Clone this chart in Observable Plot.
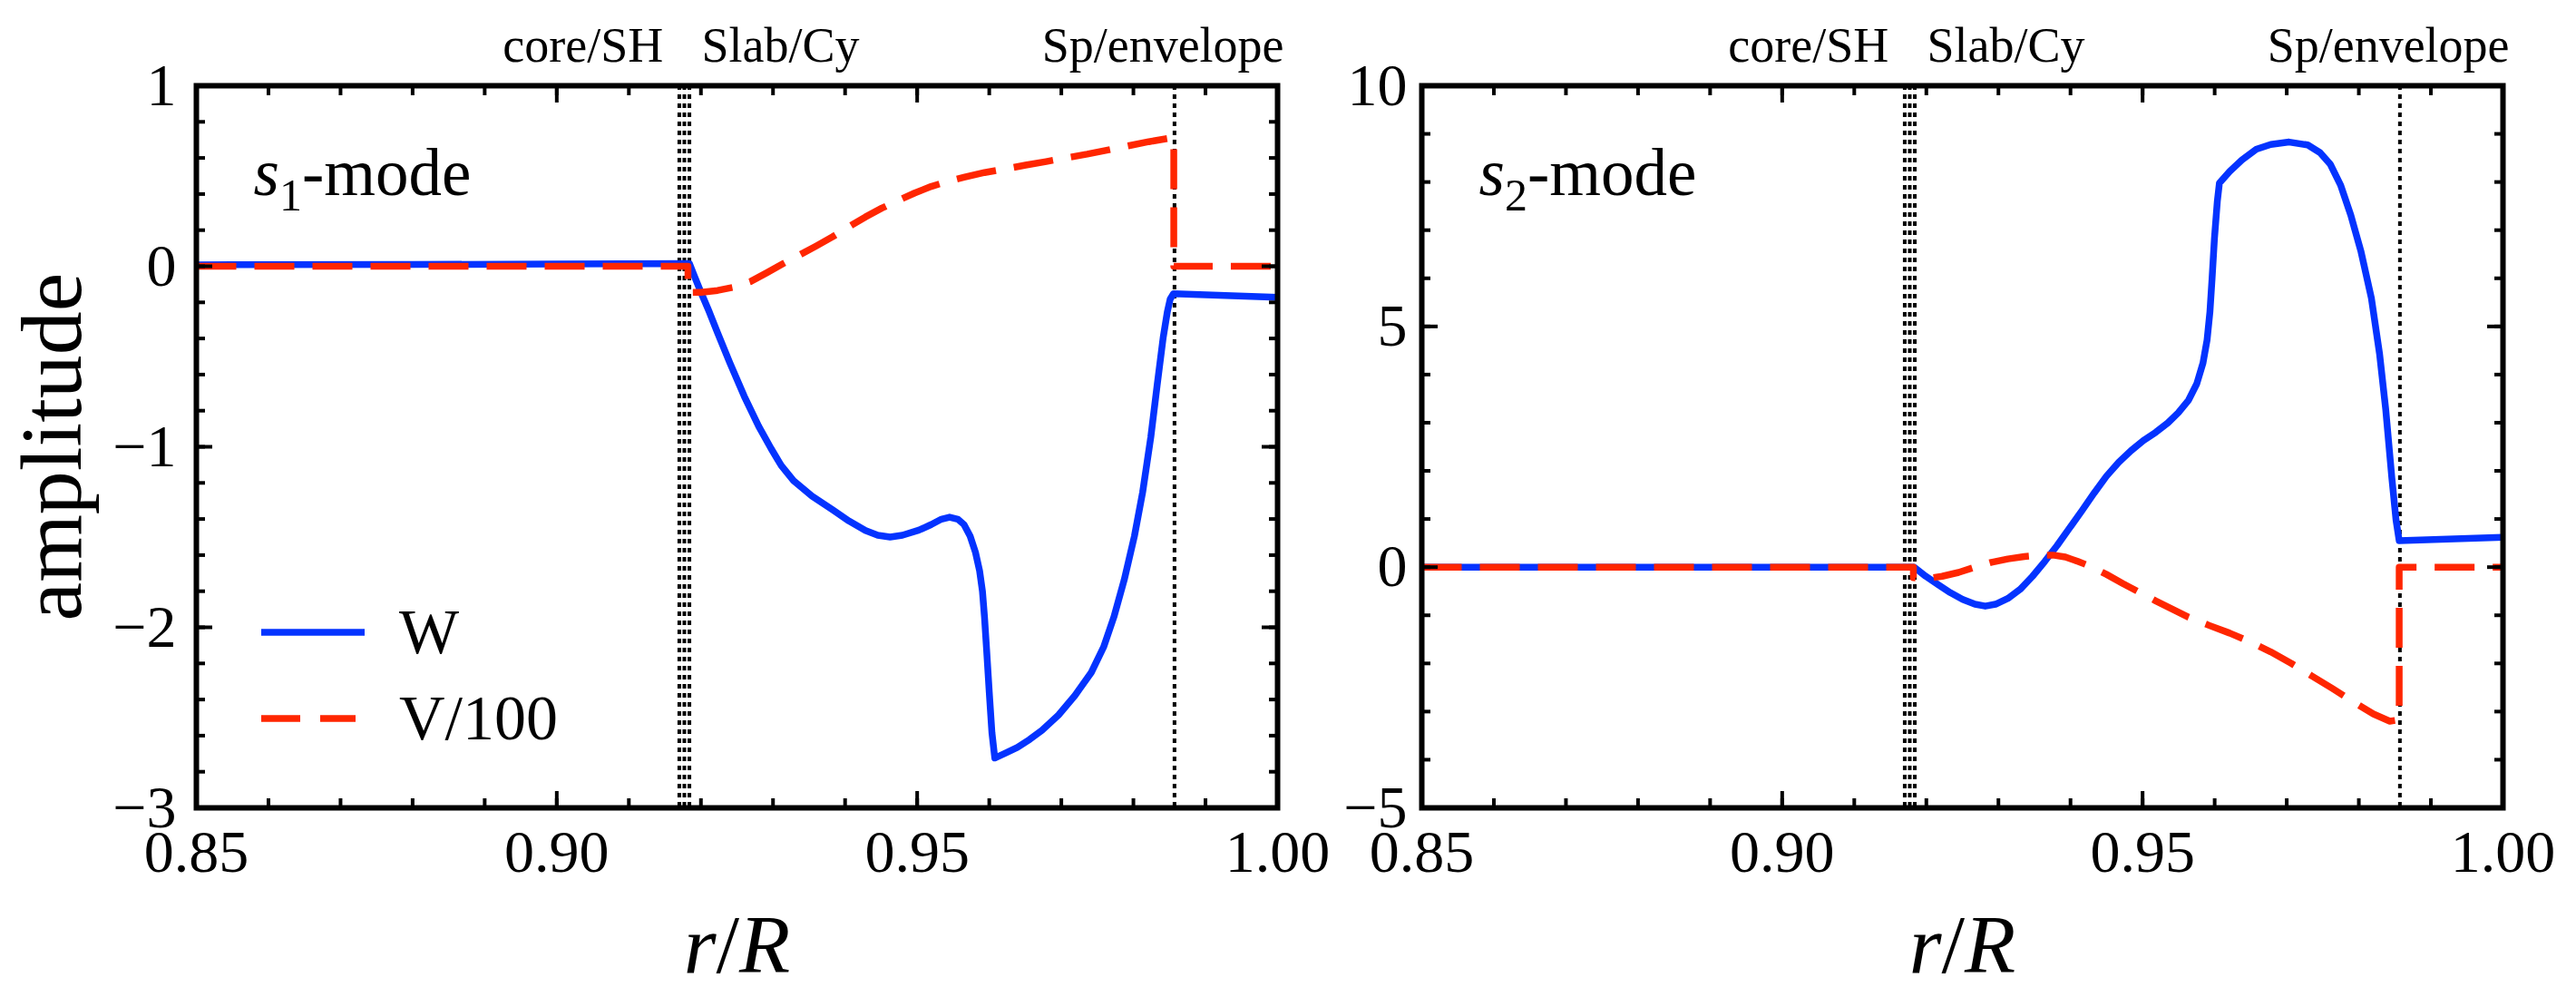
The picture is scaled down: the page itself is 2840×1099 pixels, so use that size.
<!DOCTYPE html>
<html>
<head>
<meta charset="utf-8">
<script src="https://cdn.jsdelivr.net/npm/d3@7"></script>
<script src="https://cdn.jsdelivr.net/npm/@observablehq/plot@0.6"></script>
<style>
  html, body { margin: 0; padding: 0; background: #fff; }
  #chart { display: flex; width: 2840px; height: 1099px; }
  #chart svg { overflow: visible; background: none; }
  #chart svg text { font-family: 'Liberation Serif', 'Times New Roman', Times, serif; }
</style>
</head>
<body>
<div id="chart"></div>
<script>
const serif = "'Liberation Serif', 'Times New Roman', Times, serif";
const blue = "#0433ff", red = "#ff2600";

// dotted boundaries in r/R (inner triple, then the outer one)
const boundaries = [0.9170, 0.9177, 0.9184, 0.9857];
const regionNames = ["core/SH", "Slab/Cy", "Sp/envelope"];
const regionStart = [0.8925, 0.9201, 0.9673];

const xMajor = [0.85, 0.90, 0.95, 1.00];
const y1Major = [-3, -2, -1, 0, 1];
const y2Major = [-5, 0, 5, 10];
const legendNames = ["W", "V/100"];

// s1-mode: [r/R, amplitude]
const s1W = [[0.85,0.008],[0.88,0.010],[0.90,0.012],[0.9184,0.015],[0.91917,-0.062],[0.92003,-0.147],[0.92117,-0.254],[0.92231,-0.369],[0.92402,-0.536],[0.92601,-0.720],[0.92801,-0.886],[0.92972,-1.009],[0.93114,-1.104],[0.93285,-1.188],[0.93541,-1.273],[0.93826,-1.349],[0.94054,-1.411],[0.94282,-1.464],[0.94453,-1.490],[0.94624,-1.500],[0.94795,-1.490],[0.95023,-1.462],[0.95194,-1.431],[0.95336,-1.401],[0.9545,-1.390],[0.95564,-1.401],[0.9565,-1.431],[0.95735,-1.495],[0.95809,-1.585],[0.95866,-1.687],[0.95906,-1.802],[0.95934,-1.943],[0.95963,-2.122],[0.96003,-2.378],[0.96037,-2.583],[0.96077,-2.724],[0.96219,-2.698],[0.9639,-2.665],[0.96561,-2.621],[0.96732,-2.570],[0.9696,-2.486],[0.97188,-2.378],[0.97416,-2.250],[0.97587,-2.109],[0.97729,-1.943],[0.97872,-1.738],[0.98014,-1.495],[0.98128,-1.252],[0.98242,-0.945],[0.98328,-0.663],[0.98413,-0.395],[0.9847,-0.254],[0.9851,-0.182],[0.98556,-0.152],[1.0,-0.172]];
const s1V = [[0.85,0],[0.9182,0],[0.9182,-0.144],[0.92003,-0.144],[0.92231,-0.134],[0.92459,-0.116],[0.92687,-0.085],[0.92915,-0.036],[0.93142,0.015],[0.9337,0.063],[0.93598,0.112],[0.93826,0.163],[0.94054,0.219],[0.94282,0.273],[0.9451,0.322],[0.94738,0.365],[0.94966,0.406],[0.95194,0.442],[0.95422,0.470],[0.9565,0.493],[0.95934,0.519],[0.96219,0.539],[0.96504,0.560],[0.96789,0.580],[0.97074,0.601],[0.97359,0.621],[0.97644,0.644],[0.97929,0.667],[0.98214,0.690],[0.98527,0.711],[0.9856,0.712],[0.9856,0],[1.0,0]];

// s2-mode
const s2W = [[0.85,0],[0.9183,0],[0.91991,-0.19],[0.92162,-0.36],[0.92333,-0.53],[0.92504,-0.67],[0.92675,-0.77],[0.92818,-0.81],[0.9296,-0.77],[0.93131,-0.65],[0.93302,-0.46],[0.93473,-0.19],[0.93644,0.12],[0.93815,0.45],[0.93986,0.81],[0.94157,1.17],[0.94328,1.54],[0.94499,1.89],[0.9467,2.18],[0.9484,2.42],[0.95011,2.63],[0.95182,2.80],[0.95353,3.0],[0.95496,3.21],[0.95638,3.47],[0.95752,3.81],[0.95838,4.24],[0.95895,4.72],[0.95934,5.30],[0.95963,5.97],[0.95997,6.83],[0.96037,7.60],[0.96066,7.98],[0.96208,8.22],[0.96379,8.46],[0.96578,8.68],[0.96778,8.78],[0.97034,8.83],[0.97291,8.77],[0.97462,8.61],[0.97604,8.37],[0.97746,7.94],[0.97889,7.31],[0.98031,6.55],[0.98174,5.59],[0.98288,4.43],[0.98373,3.28],[0.98459,1.84],[0.98516,0.98],[0.9856,0.55],[1.0,0.62]];
const s2V = [[0.85,0],[0.9182,0],[0.9182,-0.22],[0.91991,-0.24],[0.92219,-0.19],[0.92447,-0.11],[0.92675,0.0],[0.92903,0.10],[0.93131,0.17],[0.93359,0.22],[0.93587,0.25],[0.93758,0.25],[0.93929,0.21],[0.941,0.12],[0.94271,0.02],[0.94499,-0.15],[0.94726,-0.34],[0.94954,-0.52],[0.95182,-0.70],[0.9541,-0.87],[0.95638,-1.04],[0.95923,-1.21],[0.96208,-1.37],[0.96493,-1.55],[0.96778,-1.76],[0.97063,-2.00],[0.97348,-2.26],[0.97633,-2.52],[0.97917,-2.79],[0.98202,-3.05],[0.9843,-3.20],[0.9856,-3.17],[0.9856,0],[1.0,0]];

const fmtY = d => d < 0 ? "\u2212" + (-d) : String(d);
const fmtX = d3.format(".2f");

function panel({W, V, yDomain, yMajor, yMinor, yPad, mode, marginLeft, marginRight, yLabel}) {
  const tick = {strokeWidth: 4, fill: "none", label: null};
  const font = {fontFamily: serif};
  const marks = [
    Plot.ruleX(boundaries, {stroke: "black", strokeWidth: 4, strokeDasharray: "5,5"}),
    Plot.line(W, {x: d => d[0], y: d => d[1], stroke: blue, strokeWidth: 7.5, strokeLinecap: "butt"}),
    Plot.line(V, {x: d => d[0], y: d => d[1], stroke: red, strokeWidth: 7.5, strokeLinecap: "butt", strokeDasharray: "44,20"}),
    // minor + major ticks, pointing inward on all four sides
    Plot.axisX({anchor: "bottom", ticks: 15, tickSize: -10, ...tick}),
    Plot.axisX({anchor: "top", ticks: 15, tickSize: -10, ...tick}),
    Plot.axisX(xMajor, {anchor: "bottom", tickSize: -18, ...tick}),
    Plot.axisX(xMajor, {anchor: "top", tickSize: -18, ...tick}),
    Plot.axisY({anchor: "left", ticks: yMinor, tickSize: -10, ...tick}),
    Plot.axisY({anchor: "right", ticks: yMinor, tickSize: -10, ...tick}),
    Plot.axisY(yMajor, {anchor: "left", tickSize: -18, ...tick}),
    Plot.axisY(yMajor, {anchor: "right", tickSize: -18, ...tick}),
    // tick labels
    Plot.axisX(xMajor, {anchor: "bottom", tickSize: 0, tickPadding: 24, tickFormat: fmtX, fontSize: 66, label: null, ...font}),
    Plot.axisY(yMajor, {anchor: "left", tickSize: 0, tickPadding: yPad, tickFormat: fmtY, fontSize: 66, label: null, ...font}),
    // region names above the frame
    Plot.text(regionNames, {x: (d, i) => regionStart[i], text: d => d, frameAnchor: "top", dy: -27,
      textAnchor: "start", lineAnchor: "bottom", fontSize: 54, ...font}),
    Plot.text([mode], {frameAnchor: "top-left", dx: 63, dy: 120, textAnchor: "start", lineAnchor: "bottom", fontSize: 73, ...font}),
    Plot.text(["r/R"], {frameAnchor: "bottom", dy: 181, textAnchor: "middle", lineAnchor: "bottom", fontSize: 92, ...font}),
    Plot.frame({stroke: "black", strokeWidth: 6})
  ];
  if (yLabel) marks.push(Plot.text([yLabel], {frameAnchor: "left", dx: -128, rotate: -90, textAnchor: "middle",
    lineAnchor: "bottom", fontSize: 96, ...font}));

  const svg = Plot.plot({
    width: 1420, height: 1099,
    marginLeft, marginRight, marginTop: 94, marginBottom: 209,
    style: {fontFamily: serif, fontSize: "66px", color: "black", background: "none", overflow: "visible"},
    x: {domain: [0.85, 1.0], label: null},
    y: {domain: yDomain, label: null},
    marks
  });

  // italics / subscripts that a single text node cannot carry
  d3.select(svg).selectAll("text").each(function() {
    const t = d3.select(this);
    const s = this.textContent;
    if (s === mode) {
      t.text("");
      t.append("tspan").attr("font-style", "italic").text("s");
      t.append("tspan").attr("font-size", 50).attr("dy", 17).text(mode.slice(1, 2));
      t.append("tspan").attr("dy", -17).text(mode.slice(2));
    } else if (s === "r/R") {
      t.text("");
      t.append("tspan").attr("font-style", "italic").text("r");
      t.append("tspan").text("/");
      t.append("tspan").attr("font-style", "italic").text("R");
    }
  });
  return svg;
}

const left = panel({W: s1W, V: s1V, yDomain: [-3, 1], yMajor: y1Major, yMinor: 20, yPad: 22,
  mode: "s1-mode", marginLeft: 216, marginRight: 12, yLabel: "amplitude"});
const right = panel({W: s2W, V: s2V, yDomain: [-5, 10], yMajor: y2Major, yMinor: 15, yPad: 16,
  mode: "s2-mode", marginLeft: 147, marginRight: 81});

// legend inside the left panel
const lg = d3.select(left).append("g").attr("font-family", serif).attr("font-size", 70).attr("text-anchor", "start");
const legendRows = [{color: blue, dash: null, y: 697}, {color: red, dash: "43,22", y: 792}];
legendRows.forEach((r, i) => {
  lg.append("line").attr("x1", 288).attr("x2", i ? 392 : 402).attr("y1", r.y).attr("y2", r.y)
    .attr("stroke", r.color).attr("stroke-width", 7.5).attr("stroke-dasharray", r.dash);
  lg.append("text").attr("x", 440).attr("y", r.y + 23).attr("fill", "black").text(legendNames[i]);
});

d3.select("#chart").append(() => left);
d3.select("#chart").append(() => right);
</script>
</body>
</html>
